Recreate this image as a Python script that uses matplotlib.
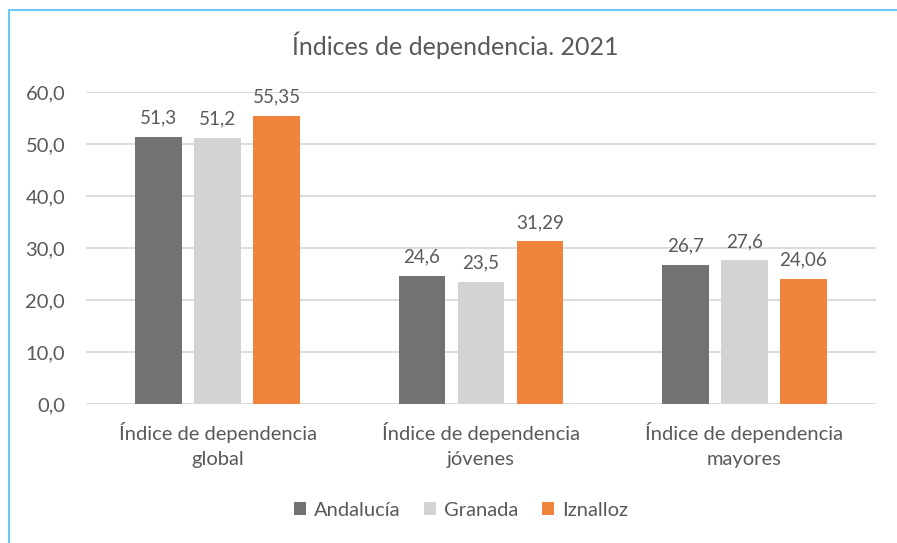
import numpy as np
import matplotlib.pyplot as plt
from matplotlib.lines import Line2D

plt.rcParams['font.family'] = ['Lato', 'DejaVu Sans']

categories = ["Índice de dependencia\nglobal",
              "Índice de dependencia\njóvenes",
              "Índice de dependencia\nmayores"]
series_names = ["Andalucía", "Granada", "Iznalloz"]
andalucia = [51.3, 24.6, 26.7]
granada = [51.2, 23.5, 27.6]
iznalloz = [55.35, 31.29, 24.06]
value_labels = [["51,3", "24,6", "26,7"],
                ["51,2", "23,5", "27,6"],
                ["55,35", "31,29", "24,06"]]
colors = ["#707274", "#d3d3d3", "#f0843c"]
text_col = "#595959"

W, H = 897, 543
fig = plt.figure(figsize=(W / 100, H / 100), dpi=100)
ax = fig.add_axes([86 / W, 1 - 404 / H, 790 / W, 312 / H])

x = np.arange(len(categories))
width = 0.178
step = 0.224
for i, (vals, name) in enumerate(zip([andalucia, granada, iznalloz], series_names)):
    pos = x + (i - 1) * step
    ax.bar(pos, vals, width, color=colors[i], label=name, zorder=2)
    for p, v, lab in zip(pos, vals, value_labels[i]):
        ax.text(p, v + 2.0, lab, ha="center", va="bottom", fontsize=13.5, color=text_col)

ax.set_xlim(-0.5, 2.5)
ax.set_ylim(0, 60)
ax.set_yticks(np.arange(0, 61, 10))
ax.set_yticklabels([f"{v:.1f}".replace(".", ",") for v in np.arange(0, 61, 10)])
ax.set_xticks(x)
ax.set_xticklabels(categories, linespacing=1.6)
ax.tick_params(axis="both", length=0, labelsize=14.5, colors=text_col)
ax.tick_params(axis="x", pad=13)
ax.tick_params(axis="y", pad=15)
ax.grid(axis="y", color="#d9d9d9", linewidth=1.3, zorder=0)
for s in ax.spines.values():
    s.set_visible(False)

fig.text(455 / W, 1 - 45 / H, "Índices de dependencia. 2021", ha="center", va="center",
         fontsize=18, color=text_col)

leg = fig.legend(loc="center", bbox_to_anchor=(461 / W, 1 - 510 / H), ncol=3, frameon=False,
                 fontsize=14.5, handlelength=0.6, handleheight=0.6, columnspacing=1.15,
                 handletextpad=0.4)
for t in leg.get_texts():
    t.set_color(text_col)

# blue frame of the original chart box
fig.add_artist(Line2D([9 / W, 1], [1 - 10 / H, 1 - 10 / H], color="#6cc8f0", linewidth=1.5))
fig.add_artist(Line2D([9 / W, 9 / W], [0, 1 - 10 / H], color="#6cc8f0", linewidth=1.5))

fig.savefig("out.png", dpi=100)
